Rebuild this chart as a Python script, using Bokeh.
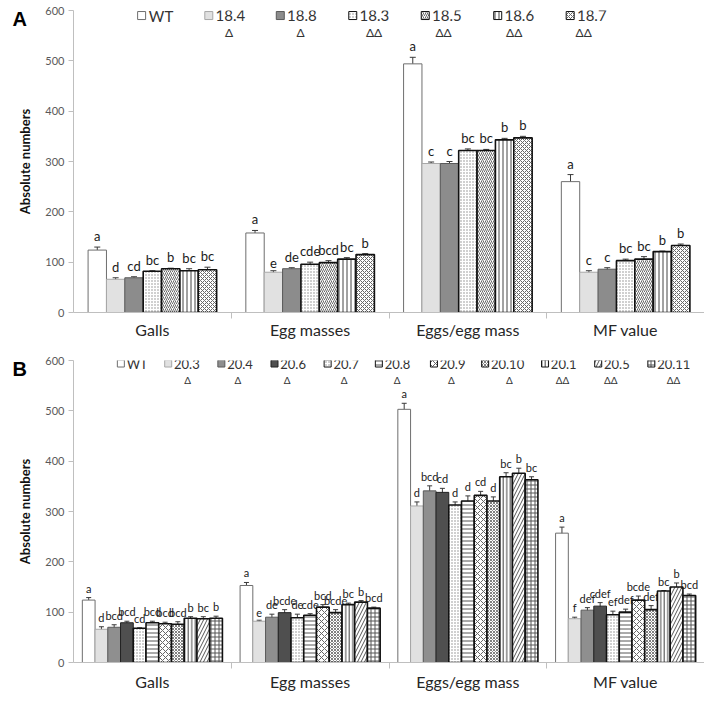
from bokeh.plotting import figure
from bokeh.layouts import column
from bokeh.models import (Range1d, FixedTicker, ColumnDataSource, Whisker, TeeHead, Label)
from bokeh.core.properties import value
from bokeh.embed import file_html
from bokeh.resources import INLINE

# ---------------- data ----------------
categories = ["Galls", "Egg masses", "Eggs/egg mass", "MF value"]

A_series = ["WT", "18.4", "18.8", "18.3", "18.5", "18.6", "18.7"]
A_marks = ["", "Δ", "Δ", "ΔΔ", "ΔΔ", "ΔΔ", "ΔΔ"]
A_galls = [124, 66, 69, 82, 87, 83, 85]
A_galls_err = [6, 3, 2, 1, 1, 4, 5]
A_galls_let = ["a", "d", "cd", "bc", "b", "bc", "bc"]
A_eggmass = [158, 80, 87, 96, 99, 106, 115]
A_eggmass_err = [5, 3, 2, 4, 4, 3, 2]
A_eggmass_let = ["a", "e", "de", "cde", "bcd", "bc", "b"]
A_eggs = [494, 296, 296, 322, 322, 343, 347]
A_eggs_err = [13, 3, 4, 3, 2, 3, 3]
A_eggs_let = ["a", "c", "c", "bc", "bc", "b", "b"]
A_mf = [260, 80, 86, 103, 106, 121, 133]
A_mf_err = [14, 3, 3, 3, 5, 1, 3]
A_mf_let = ["a", "c", "c", "bc", "bc", "b", "b"]

B_series = ["WT", "20.3", "20.4", "20.6", "20.7", "20.8", "20.9", "20.10", "20.1", "20.5", "20.11"]
B_marks = ["", "Δ", "Δ", "Δ", "Δ", "Δ", "Δ", "Δ", "ΔΔ", "ΔΔ", "ΔΔ"]
B_galls = [124, 66, 70, 79, 68, 79, 77, 76, 88, 87, 88]
B_galls_err = [5, 5, 5, 3, 1, 3, 3, 5, 3, 4, 4]
B_galls_let = ["a", "d", "bcd", "bcd", "cd", "bcd", "bcd", "bcd", "b", "bc", "b"]
B_eggmass = [153, 82, 90, 99, 89, 94, 110, 99, 115, 120, 108]
B_eggmass_err = [6, 2, 6, 6, 7, 3, 5, 6, 3, 3, 2]
B_eggmass_let = ["a", "e", "de", "bcde", "de", "cde", "bcd", "bcde", "bc", "b", "bcd"]
B_eggs = [503, 311, 341, 338, 313, 321, 332, 321, 369, 376, 363]
B_eggs_err = [12, 8, 10, 8, 6, 10, 8, 8, 8, 10, 6]
B_eggs_let = ["a", "d", "bcd", "cd", "d", "d", "cd", "d", "bc", "b", "bc"]
B_mf = [257, 87, 104, 112, 95, 100, 124, 105, 142, 150, 133]
B_mf_err = [12, 3, 5, 7, 7, 6, 8, 8, 1, 8, 3]
B_mf_let = ["a", "f", "def", "cdef", "ef", "def", "bcde", "def", "bc", "b", "bcd"]

y_ticks = [0, 100, 200, 300, 400, 500, 600]

# ---------------- styles ----------------
FONT = "Lato"
A_styles = [
    dict(fill_color="white", line_color="#6e6e6e", line_width=1),
    dict(fill_color="#e1e1e1", line_color="#a8a8a8", line_width=1),
    dict(fill_color="#8c8c8c", line_color="#5a5a5a", line_width=1),
    dict(fill_color="white", line_color="#111111", line_width=1.6, hatch_pattern="dot", hatch_color="#8a8a8a", hatch_scale=3, hatch_weight=1),
    dict(fill_color="white", line_color="#111111", line_width=1.6, hatch_pattern="right_diagonal_line", hatch_color="#6a6a6a", hatch_scale=4, hatch_weight=1),
    dict(fill_color="white", line_color="#111111", line_width=1.6, hatch_pattern="vertical_line", hatch_color="#444444", hatch_scale=4, hatch_weight=1),
    dict(fill_color="white", line_color="#111111", line_width=1.6, hatch_pattern="diagonal_cross", hatch_color="#666666", hatch_scale=4, hatch_weight=1),
]
B_styles = [
    dict(fill_color="white", line_color="#6e6e6e", line_width=1),
    dict(fill_color="#e1e1e1", line_color="#a8a8a8", line_width=1),
    dict(fill_color="#8f8f8f", line_color="#5a5a5a", line_width=1),
    dict(fill_color="#4f4f4f", line_color="#222222", line_width=1),
    dict(fill_color="white", line_color="#111111", line_width=1.6, hatch_pattern="dot", hatch_color="#8a8a8a", hatch_scale=3, hatch_weight=1),
    dict(fill_color="white", line_color="#111111", line_width=1.6, hatch_pattern="horizontal_line", hatch_color="#555555", hatch_scale=4, hatch_weight=1),
    dict(fill_color="white", line_color="#111111", line_width=1.6, hatch_pattern="diagonal_cross", hatch_color="#666666", hatch_scale=6, hatch_weight=1),
    dict(fill_color="white", line_color="#111111", line_width=1.6, hatch_pattern="diagonal_cross", hatch_color="#808080", hatch_scale=3, hatch_weight=1),
    dict(fill_color="white", line_color="#111111", line_width=1.6, hatch_pattern="vertical_line", hatch_color="#444444", hatch_scale=3.5, hatch_weight=1),
    dict(fill_color="white", line_color="#111111", line_width=1.6, hatch_pattern="right_diagonal_line", hatch_color="#555555", hatch_scale=7, hatch_weight=1),
    dict(fill_color="white", line_color="#111111", line_width=1.6, hatch_pattern="cross", hatch_color="#555555", hatch_scale=4, hatch_weight=1),
]

# reference-pixel helper for layout of legend entries
PX_PER_CAT = 163.25
X0 = 67.0
def xd(px):
    return (px - X0) / PX_PER_CAT


def make_panel(letter, series, marks, vals, errs, lets, styles, group_frac,
               height, top_border, bottom_border, standoff, let_size,
               leg_sq, leg_txt, leg_delta, leg_y, delta_y, leg_size, sq_size, head):
    p = figure(width=704, height=height, output_backend="svg", toolbar_location=None,
               x_range=Range1d(0, 4), y_range=Range1d(0, 600),
               min_border_left=67, min_border_right=0,
               min_border_top=top_border, min_border_bottom=bottom_border)
    p.outline_line_color = None
    p.grid.visible = False
    p.background_fill_color = "white"

    n = len(series)
    bw = group_frac / n
    for j in range(n):
        xs = [i + 0.5 + (j - (n - 1) / 2) * bw for i in range(len(categories))]
        tops = [v[j] for v in vals]
        er = [e[j] for e in errs]
        lt = [l[j] for l in lets]
        src = ColumnDataSource(dict(x=xs, top=tops, upper=[t + e for t, e in zip(tops, er)],
                                    lower=[t - e for t, e in zip(tops, er)], let=lt))
        p.vbar(x="x", top="top", bottom=0, width=bw, source=src, **styles[j])
        w = Whisker(source=src, base="x", upper="upper", lower="lower",
                    line_color="#3a3a3a", line_width=1,
                    upper_head=TeeHead(size=head, line_color="#3a3a3a", line_width=1),
                    lower_head=TeeHead(size=head, line_color="#3a3a3a", line_width=1))
        p.add_layout(w)
        p.text(x="x", y="upper", text="let", source=src, text_align="center",
               text_baseline="bottom", y_offset=-3, text_font=value(FONT),
               text_font_size=f"{let_size}px", text_color="#1a1a1a")

        # legend entry
        p.rect(x=[xd(leg_sq[j])], y=[leg_y], width=sq_size, height=sq_size,
               width_units="screen", height_units="screen",
               **{k: v for k, v in styles[j].items() if k != "line_width"}, line_width=1)
        p.add_layout(Label(x=xd(leg_txt[j]), y=leg_y, text=series[j], text_align="left",
                           text_baseline="middle", text_font=FONT,
                           text_font_size=f"{leg_size}px", text_color="#333333"))
        if marks[j]:
            p.add_layout(Label(x=xd(leg_delta[j - 1]), y=delta_y, text=marks[j], text_align="center",
                               text_baseline="middle", text_font=FONT,
                               text_font_size=f"{leg_size - 3}px", text_color="#333333"))

    # y axis
    p.yaxis.ticker = FixedTicker(ticks=y_ticks)
    p.yaxis.axis_line_color = "#bfbfbf"
    p.yaxis.major_tick_line_color = "#bfbfbf"
    p.yaxis.major_tick_out = 5
    p.yaxis.major_tick_in = 0
    p.yaxis.minor_tick_line_color = None
    p.yaxis.major_label_text_font = FONT
    p.yaxis.major_label_text_font_size = "11px"
    p.yaxis.major_label_text_color = "#595959"
    p.yaxis.major_label_standoff = 4
    p.yaxis.axis_label = "Absolute numbers"
    p.yaxis.axis_label_text_font = FONT
    p.yaxis.axis_label_text_font_style = "bold"
    p.yaxis.axis_label_text_font_size = "13px"
    p.yaxis.axis_label_text_color = "#111111"
    p.yaxis.axis_label_standoff = 9

    # x axis
    p.xaxis.ticker = FixedTicker(ticks=[0.5, 1.5, 2.5, 3.5], minor_ticks=[1, 2, 3, 4])
    p.xaxis.major_label_overrides = {0.5: categories[0], 1.5: categories[1],
                                     2.5: categories[2], 3.5: categories[3]}
    p.xaxis.axis_line_color = "#bfbfbf"
    p.xaxis.major_tick_line_color = None
    p.xaxis.major_tick_out = 0
    p.xaxis.major_tick_in = 0
    p.xaxis.minor_tick_line_color = "#bfbfbf"
    p.xaxis.minor_tick_out = 6
    p.xaxis.minor_tick_in = 0
    p.xaxis.major_label_text_font = FONT
    p.xaxis.major_label_text_font_size = "16px"
    p.xaxis.major_label_text_color = "#262626"
    p.xaxis.major_label_standoff = standoff

    # panel letter, placed in the left side panel so it is not clipped
    p.add_layout(Label(x=12, y=584, x_units="screen", text=letter, text_align="left",
                       text_baseline="middle", text_font="Liberation Sans",
                       text_font_style="bold", text_font_size="20px", text_color="black"), "left")
    return p


pA = make_panel("A", A_series, A_marks,
                [A_galls, A_eggmass, A_eggs, A_mf],
                [A_galls_err, A_eggmass_err, A_eggs_err, A_mf_err],
                [A_galls_let, A_eggmass_let, A_eggs_let, A_mf_let],
                A_styles, 0.815, 342, 10, 30, 1, 13,
                [137.5, 207, 281, 356, 431, 506, 581],
                [145, 214, 288, 363, 438, 513, 588],
                [228, 302, 378, 450, 523, 595],
                590, 556, 15, 8, 6)

pB = make_panel("B", B_series, B_marks,
                [B_galls, B_eggmass, B_eggs, B_mf],
                [B_galls_err, B_eggmass_err, B_eggs_err, B_mf_err],
                [B_galls_let, B_eggmass_let, B_eggs_let, B_mf_let],
                B_styles, 0.888, 351, 18, 31, 3, 11,
                [116, 165, 220, 275, 330, 383, 440, 493, 555, 610, 665],
                [122, 171, 226, 281, 336, 389, 446, 499, 561, 616, 671],
                [185, 237, 288, 347, 402, 458, 518, 573, 623, 688],
                594, 562, 13, 7, 5)

layout = column(pA, pB, spacing=0)
open("out.html", "w").write(file_html(layout, INLINE))
